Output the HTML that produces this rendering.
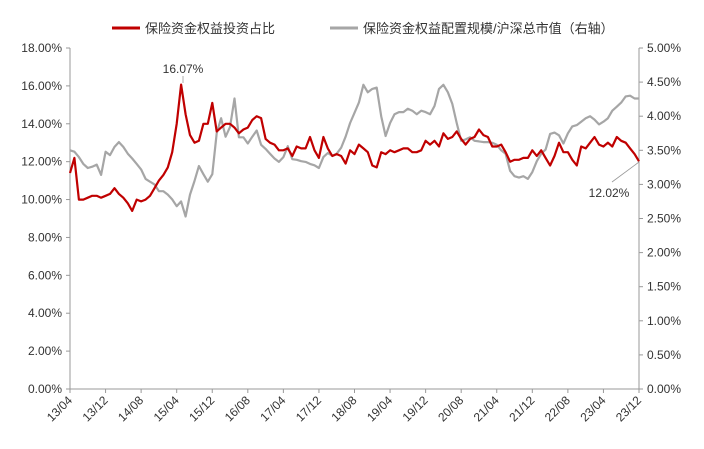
<!DOCTYPE html>
<html><head><meta charset="utf-8"><style>
body{margin:0;background:#fff;}
svg text{font-family:"Liberation Sans","Noto Sans CJK SC",sans-serif;fill:#333;}
</style></head><body>
<svg id="chart" width="704" height="444" viewBox="0 0 704 444" xmlns="http://www.w3.org/2000/svg">
<g>
  <line x1="112" y1="28" x2="140" y2="28" stroke="#c00000" stroke-width="3"/>
  <text x="145" y="33" font-size="13">保险资金权益投资占比</text>
  <line x1="330" y1="28" x2="358" y2="28" stroke="#a6a6a6" stroke-width="3"/>
  <text x="363" y="33" font-size="13">保险资金权益配置规模/沪深总市值（右轴）</text>
</g>
<g id="axes"></g>
<g id="series"></g>
<g>
  <text x="183" y="73" font-size="12" text-anchor="middle">16.07%</text>
  <line x1="183" y1="76" x2="183" y2="83" stroke="#999" stroke-width="0.8"/>
  <text x="609" y="197" font-size="12" text-anchor="middle">12.02%</text>
  <line x1="612" y1="182" x2="639" y2="162" stroke="#999" stroke-width="0.8"/>
</g>
</svg>
<script>
const xTickLabels=["13/04","13/12","14/08","15/04","15/12","16/08","17/04","17/12","18/08","19/04","19/12","20/08","21/04","21/12","22/08","23/04","23/12"];
const leftTicks=[0,2,4,6,8,10,12,14,16,18];
const rightTicks=[0,0.5,1,1.5,2,2.5,3,3.5,4,4.5,5];
const ratioSeries=[11.4,12.2,10.0,10.0,10.1,10.2,10.2,10.1,10.2,10.3,10.6,10.3,10.1,9.8,9.4,10.0,9.9,10.0,10.2,10.6,11.0,11.3,11.7,12.5,14.0,16.07,14.5,13.4,13.0,13.1,14.0,14.0,15.1,13.6,13.8,14.0,14.0,13.8,13.5,13.7,13.8,14.2,14.4,14.3,13.2,13.0,12.9,12.6,12.6,12.7,12.3,12.8,12.7,12.7,13.3,12.6,12.2,13.3,12.7,12.3,12.4,12.3,11.9,12.6,12.4,12.9,12.7,12.5,11.8,11.7,12.5,12.4,12.6,12.5,12.6,12.7,12.7,12.5,12.5,12.6,13.1,12.9,13.1,12.8,13.5,13.2,13.3,13.6,13.2,12.9,13.2,13.3,13.7,13.4,13.3,12.8,12.8,12.9,12.5,12.0,12.1,12.1,12.2,12.2,12.6,12.3,12.6,12.2,11.8,12.3,13.0,12.5,12.5,12.1,11.8,12.8,12.7,13.0,13.3,12.9,12.8,13.0,12.8,13.3,13.1,13.0,12.7,12.4,12.02];
const scaleSeries=[3.50,3.48,3.40,3.30,3.24,3.26,3.29,3.14,3.48,3.43,3.55,3.62,3.55,3.45,3.38,3.30,3.22,3.08,3.04,3.00,2.90,2.90,2.85,2.78,2.68,2.75,2.53,2.85,3.05,3.27,3.15,3.04,3.15,3.75,3.97,3.70,3.84,4.26,3.69,3.69,3.60,3.70,3.79,3.58,3.52,3.45,3.38,3.33,3.40,3.56,3.37,3.36,3.34,3.33,3.30,3.28,3.24,3.40,3.46,3.42,3.45,3.54,3.70,3.90,4.05,4.20,4.46,4.35,4.40,4.42,4.00,3.71,3.90,4.03,4.06,4.06,4.11,4.08,4.03,4.08,4.06,4.03,4.15,4.40,4.46,4.35,4.18,3.90,3.64,3.66,3.69,3.64,3.63,3.62,3.62,3.61,3.58,3.50,3.45,3.20,3.12,3.10,3.12,3.08,3.18,3.34,3.45,3.51,3.74,3.76,3.72,3.60,3.75,3.85,3.87,3.92,3.97,4.00,3.95,3.88,3.92,3.97,4.08,4.14,4.20,4.29,4.30,4.26,4.26];

const X0=70,X1=639,YT=48,YB=389;
const n=ratioSeries.length;
const xAt=i=>X0+(X1-X0)*i/(n-1);
const yL=v=>YB-(YB-YT)*v/18;
const yR=v=>YB-(YB-YT)*v/5;
const NS="http://www.w3.org/2000/svg";
function mk(tag,attrs,parent){const e=document.createElementNS(NS,tag);for(const k in attrs)e.setAttribute(k,attrs[k]);parent.appendChild(e);return e;}
const axes=document.getElementById('axes');
let e;
e=mk('line',{x1:X0,y1:YT,x2:X0,y2:YB,stroke:'#999','stroke-width':1},axes);


e=mk('line',{x1:X1,y1:YT,x2:X1,y2:YB,stroke:'#999','stroke-width':1},axes);


e=mk('line',{x1:X0,y1:YB,x2:X1,y2:YB,stroke:'#999','stroke-width':1},axes);


leftTicks.forEach(v=>{
  const y=yL(v);
  mk('line',{x1:X0-4,y1:y,x2:X0,y2:y,stroke:'#999'},axes);
  const t=mk('text',{x:X0-8,y:y+4,'font-size':12,'text-anchor':'end'},axes);
  t.textContent=v.toFixed(2)+'%';
  
  
});
rightTicks.forEach(v=>{
  const y=yR(v);
  mk('line',{x1:X1,y1:y,x2:X1+4,y2:y,stroke:'#999'},axes);
  const t=mk('text',{x:X1+8,y:y+4,'font-size':12},axes);
  t.textContent=v.toFixed(2)+'%';
  
  
});
xTickLabels.forEach((lab,k)=>{
  const x=xAt(k*8);
  mk('line',{x1:x,y1:YB,x2:x,y2:YB+4,stroke:'#999'},axes);
  const t=mk('text',{x:x+3,y:YB+12,'font-size':12,'text-anchor':'end',transform:`rotate(-45 ${x+3} ${YB+12})`},axes);
  t.textContent=lab;
  
  
});
const series=document.getElementById('series');
const pGray=scaleSeries.map((v,i)=>(i?'L':'M')+xAt(i).toFixed(1)+' '+yR(v).toFixed(1)).join('');
e=mk('path',{d:pGray,fill:'none',stroke:'#a6a6a6','stroke-width':2.2,'stroke-linejoin':'round'},series);


const pRed=ratioSeries.map((v,i)=>(i?'L':'M')+xAt(i).toFixed(1)+' '+yL(v).toFixed(1)).join('');
e=mk('path',{d:pRed,fill:'none',stroke:'#c00000','stroke-width':2.2,'stroke-linejoin':'round'},series);


</script>
</body></html>
